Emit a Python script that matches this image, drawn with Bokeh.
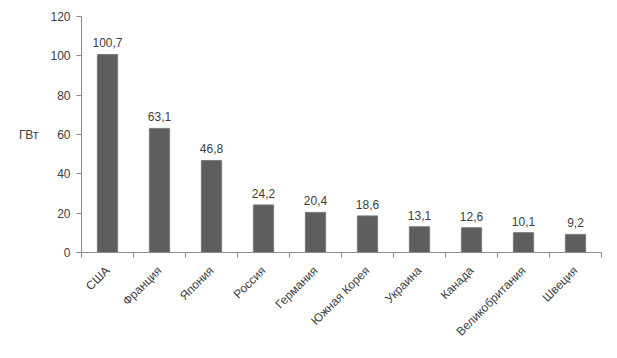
import math
from bokeh.plotting import figure
from bokeh.models import ColumnDataSource, FixedTicker, Range1d, LabelSet
from bokeh.core.properties import value
from bokeh.embed import file_html
from bokeh.resources import INLINE

categories = ["США", "Франция", "Япония", "Россия", "Германия", "Южная Корея",
              "Украина", "Канада", "Великобритания", "Швеция"]
values = [100.7, 63.1, 46.8, 24.2, 20.4, 18.6, 13.1, 12.6, 10.1, 9.2]
value_labels = [f"{v:.1f}".replace(".", ",") for v in values]
y_ticks = [0, 20, 40, 60, 80, 100, 120]
y_unit = "ГВт"

FONT = "Liberation Sans"
TXT = "#404040"
AX = "#8a8a8a"

xs = [i + 0.5 for i in range(len(categories))]
src = ColumnDataSource(dict(x=xs, top=values, lab=value_labels, cat=categories))

p = figure(width=617, height=358, output_backend="svg", toolbar_location=None,
           x_range=Range1d(0, len(categories)), y_range=Range1d(0, 120),
           min_border_left=81, min_border_right=16, min_border_top=16, min_border_bottom=106)
p.outline_line_color = None
p.grid.visible = False
p.background_fill_color = "white"
p.border_fill_color = "white"

p.vbar(x="x", top="top", width=0.39, source=src, fill_color="#5e5e5e",
       line_color="#7c7c7c", line_width=1)

p.add_layout(LabelSet(x="x", y="top", text="lab", source=src, text_align="center",
                      text_baseline="bottom", y_offset=7, text_font=value(FONT),
                      text_font_size="12px", text_color=TXT))

xa = p.xaxis[0]
xa.ticker = FixedTicker(ticks=xs, minor_ticks=list(range(len(categories) + 1)))
xa.major_label_overrides = {x: c for x, c in zip(xs, categories)}
xa.major_label_orientation = math.pi / 4
xa.major_tick_out = 0
xa.major_tick_in = 0
xa.minor_tick_out = 5
xa.minor_tick_in = 0
xa.minor_tick_line_color = AX
xa.axis_line_color = AX
xa.major_label_standoff = 11
xa.major_label_text_font = FONT
xa.major_label_text_font_size = "12px"
xa.major_label_text_color = TXT

ya = p.yaxis[0]
ya.ticker = FixedTicker(ticks=y_ticks)
ya.major_tick_out = 5
ya.major_tick_in = 0
ya.minor_tick_line_color = None
ya.major_tick_line_color = AX
ya.axis_line_color = AX
ya.major_label_standoff = 6
ya.major_label_text_font = FONT
ya.major_label_text_font_size = "12px"
ya.major_label_text_color = TXT
ya.axis_label = y_unit
ya.axis_label_orientation = "horizontal"
ya.axis_label_standoff = 9
ya.axis_label_text_font = FONT
ya.axis_label_text_font_size = "12px"
ya.axis_label_text_font_style = "normal"
ya.axis_label_text_color = TXT

open("out.html", "w").write(file_html(p, INLINE))
